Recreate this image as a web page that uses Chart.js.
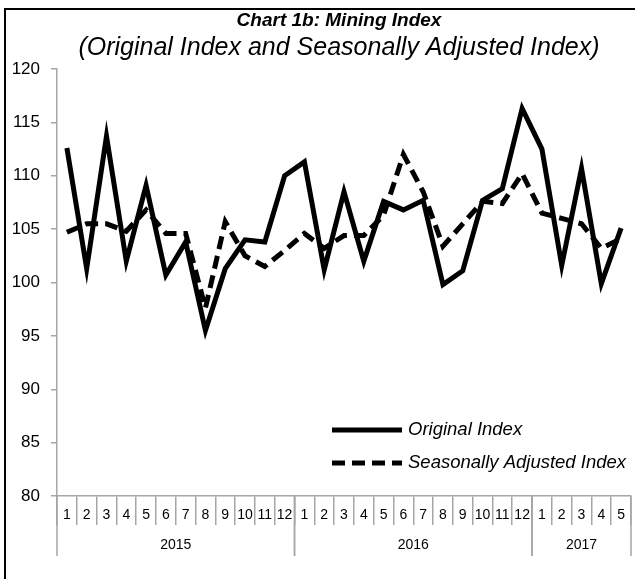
<!DOCTYPE html>
<html>
<head>
<meta charset="utf-8">
<script src="https://cdn.jsdelivr.net/npm/chart.js@4.4.1/dist/chart.umd.min.js"></script>
<style>
  body { margin:0; background:#fff; overflow:hidden; }
  #frame { position:absolute; left:4px; top:8px; width:700px; height:700px; border:2px solid #000; }
  #wrap { position:absolute; left:0; top:0; width:635px; height:579px; }
</style>
</head>
<body>
<div id="frame"></div>
<div id="wrap"><canvas id="chart" width="635" height="579"></canvas></div>
<script>
// Data
const months = ["1","2","3","4","5","6","7","8","9","10","11","12",
                "1","2","3","4","5","6","7","8","9","10","11","12",
                "1","2","3","4","5"];
const years = ["2015","2016","2017"];
const yearSpans = [12, 12, 5];

const originalIndex = [112.6,101.3,113.7,102.0,109.1,100.7,103.8,95.5,101.3,104.0,103.8,110.0,
                       111.3,101.2,108.5,102.0,107.6,106.8,107.7,99.8,101.1,107.7,108.8,116.3,
                       112.5,101.6,110.7,99.9,105.1];
const adjustedIndex = [104.7,105.5,105.5,104.8,106.8,104.6,104.6,97.6,105.7,102.5,101.5,103.0,
                       104.6,103.2,104.4,104.4,106.3,112.0,108.5,103.4,105.5,107.6,107.4,110.2,
                       106.5,106.0,105.5,103.2,104.1];

const yTicks = [80,85,90,95,100,105,110,115,120];

const FONT = "'Liberation Sans', Arial, sans-serif";
const GRAY = "#a6a6a6";

// titles, year axis and legend
const extras = {
  id: "extras",
  afterDraw(chart){
    const ctx = chart.ctx;
    const x = chart.scales.x;
    const area = chart.chartArea;
    ctx.save();

    // titles
    ctx.fillStyle = "#000";
    ctx.textAlign = "center";
    ctx.textBaseline = "middle";
    ctx.font = "italic bold 19px " + FONT;
    ctx.fillText("Chart 1b: Mining Index", 339, 21);
    ctx.font = "italic 25px " + FONT;
    ctx.fillText("(Original Index and Seasonally Adjusted Index)", 339, 48);

    // year groups
    const half = (x.getPixelForValue(1) - x.getPixelForValue(0)) / 2;
    ctx.strokeStyle = GRAY;
    ctx.lineWidth = 1.5;
    ctx.font = "14px " + FONT;
    let start = 0;
    years.forEach((yr, i) => {
      const end = start + yearSpans[i] - 1;
      const l = x.getPixelForValue(start) - half;
      const r = x.getPixelForValue(end) + half;
      ctx.beginPath();
      ctx.moveTo(l, area.bottom); ctx.lineTo(l, 556);
      ctx.moveTo(r, area.bottom); ctx.lineTo(r, 556);
      ctx.stroke();
      ctx.fillStyle = "#000";
      ctx.fillText(yr, (l + r) / 2, 545);
      start += yearSpans[i];
    });

    // legend
    ctx.textAlign = "left";
    ctx.font = "italic 18.5px " + FONT;
    chart.data.datasets.forEach((ds, i) => {
      const y = 430 + i * 33;
      ctx.beginPath();
      ctx.strokeStyle = ds.borderColor;
      ctx.lineWidth = ds.borderWidth;
      ctx.setLineDash(ds.borderDash || []);
      ctx.moveTo(332, y); ctx.lineTo(402, y);
      ctx.stroke();
      ctx.setLineDash([]);
      ctx.fillStyle = "#000";
      ctx.fillText(ds.label, 408, y);
    });
    ctx.restore();
  }
};

new Chart(document.getElementById("chart"), {
  type: "line",
  data: {
    labels: months,
    datasets: [
      { label: "Original Index", data: originalIndex, borderColor: "#000", borderWidth: 5,
        pointRadius: 0, tension: 0, fill: false },
      { label: "Seasonally Adjusted Index", data: adjustedIndex, borderColor: "#000", borderWidth: 5,
        borderDash: [13, 7], pointRadius: 0, tension: 0, fill: false }
    ]
  },
  options: {
    responsive: false,
    animation: false,
    layout: { padding: { top: 69, left: 0, right: 4, bottom: 0 } },
    plugins: { legend: { display: false }, tooltip: { enabled: false } },
    scales: {
      x: {
        offset: true,
        grid: { offset: true, drawOnChartArea: false, tickLength: 29, color: GRAY, lineWidth: 1.5 },
        border: { color: GRAY, width: 1.5 },
        ticks: { color: "#000", font: { family: FONT, size: 14 }, padding: -18, maxRotation: 0, autoSkip: false },
        afterFit(s){ s.height = 83; }
      },
      y: {
        min: 80, max: 120,
        afterBuildTicks(s){ s.ticks = yTicks.map(v => ({ value: v })); },
        grid: { drawOnChartArea: false, tickLength: 6, color: GRAY, lineWidth: 1.5 },
        border: { color: GRAY, width: 1.5 },
        ticks: { color: "#000", font: { family: FONT, size: 17 }, padding: 11 },
        afterFit(s){ s.width = 57; }
      }
    }
  },
  plugins: [extras]
});
</script>
</body>
</html>
